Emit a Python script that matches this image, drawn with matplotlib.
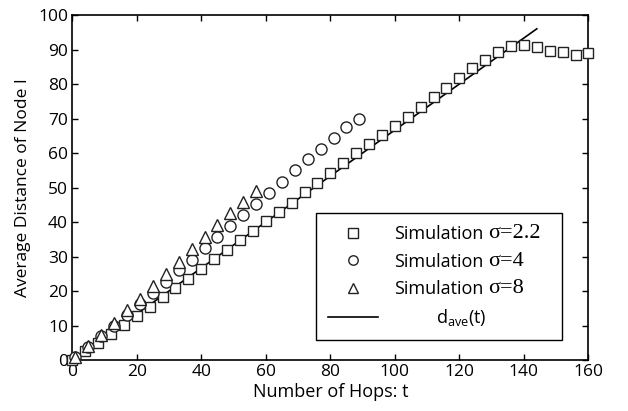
import matplotlib
matplotlib.use("Agg")
import matplotlib.pyplot as plt

plt.rcParams['font.family'] = ['Open Sans', 'DejaVu Sans']
plt.rcParams['mathtext.fontset'] = 'custom'
plt.rcParams['mathtext.rm'] = 'Open Sans'
plt.rcParams['mathtext.sf'] = 'Open Sans'

# simulation, sigma = 2.2 (every 4 hops)
t_s22 = list(range(0, 161, 4))
d_s22 = [0.0, 2.7, 5.0, 7.5, 10.2, 12.9, 15.5, 18.2, 20.9, 23.5, 26.3,
         29.2, 32.0, 34.7, 37.4, 40.4, 42.9, 45.6, 48.6, 51.4, 54.3,
         57.0, 59.9, 62.5, 65.2, 67.8, 70.5, 73.4, 76.1, 78.9, 81.8,
         84.5, 87.0, 89.4, 91.0, 91.3, 90.6, 89.6, 89.2, 88.4, 88.9]

# simulation, sigma = 4
t_s4 = list(range(1, 90, 4))
d_s4 = [0.8, 3.9, 7.0, 9.9, 13.0, 16.2, 19.3, 22.7, 26.1, 29.0, 32.4,
        35.7, 38.8, 42.0, 45.2, 48.5, 51.5, 55.0, 58.2, 61.2, 64.4,
        67.6, 69.9]

# simulation, sigma = 8
t_s8 = list(range(1, 58, 4))
d_s8 = [0.9, 4.0, 7.2, 10.8, 14.5, 17.8, 21.6, 24.9, 28.5, 32.1, 35.6,
        39.1, 42.5, 45.9, 49.1]

# analytical d_ave(t)
t_ave = [0, 144]
d_ave = [0, 96]

sigmas = ['σ=2.2', 'σ=4', 'σ=8']

fig = plt.figure(figsize=(6.28, 4.11), dpi=100)
ax = fig.add_axes([0.115, 0.124, 0.822, 0.8395])

mk = dict(linestyle='none', markerfacecolor='white', markeredgecolor='#222222',
          markeredgewidth=1.0, clip_on=False)
ax.plot(t_s22, d_s22, marker='s', markersize=7.8, label='Simulation', zorder=3, **mk)
ax.plot(t_s4, d_s4, marker='o', markersize=8, label='Simulation', zorder=3, **mk)
ax.plot(t_s8, d_s8, marker='^', markersize=8, label='Simulation', zorder=3, **mk)
ax.plot(t_ave, d_ave, color='black', linewidth=1.2,
        label='         ' + r'$\mathsf{d_{ave}(t)}$', zorder=2)

ax.set_xlim(0, 160)
ax.set_ylim(0, 100)
ax.set_xticks(range(0, 161, 20))
ax.set_yticks(range(0, 101, 10))
ax.tick_params(direction='in', top=True, right=True, length=4, width=1,
               labelsize=12.5, pad=3)
for s in ax.spines.values():
    s.set_linewidth(1.2)

ax.set_xlabel('Number of Hops: t', fontsize=13, labelpad=2)
ax.set_ylabel('Average Distance of Node I', fontsize=12.5, labelpad=5)

leg = ax.legend(loc='lower left', bbox_to_anchor=(0.4723, 0.058, 0.4767, 0.3),
                mode='expand', fontsize=13,
                frameon=True, fancybox=False, edgecolor='black', framealpha=1,
                handlelength=2.8, handletextpad=0.85, labelspacing=0.52,
                borderpad=0.65, borderaxespad=0.0, markerscale=0.85)
leg.get_frame().set_linewidth(1.0)

# sigma part of the labels in a larger serif face, right after "Simulation"
for txt, s in zip(leg.get_texts()[:3], sigmas):
    ax.annotate(s, xy=(1, 0), xycoords=txt, xytext=(3.5, 0), textcoords='offset points',
                ha='left', va='bottom', fontsize=16, family='Liberation Serif',
                zorder=10)

fig.canvas.draw()
fig.savefig('out.png', dpi=100)
